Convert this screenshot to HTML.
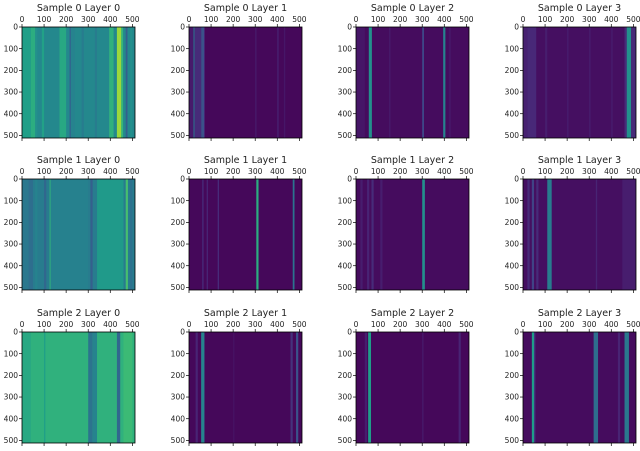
<!DOCTYPE html>
<html><head><meta charset="utf-8"><style>
body{margin:0;background:#fff;}
svg{display:block;font-family:"DejaVu Sans","Liberation Sans",sans-serif;}
</style></head><body>
<svg id="fig" width="640" height="451" viewBox="0 0 640 451"></svg>
<script>
// Heatmap data: per panel base value and vertical stripes [xStart, xEnd, value] in data units (0..512), value 0..1
const titles = ["Sample 0 Layer 0","Sample 0 Layer 1","Sample 0 Layer 2","Sample 0 Layer 3",
"Sample 1 Layer 0","Sample 1 Layer 1","Sample 1 Layer 2","Sample 1 Layer 3",
"Sample 2 Layer 0","Sample 2 Layer 1","Sample 2 Layer 2","Sample 2 Layer 3"];
const baseValues = [0.47,0.02,0.03,0.04, 0.42,0.02,0.03,0.04, 0.64,0.02,0.02,0.03];
const stripes0 = [[0,40,0.56],[40,60,0.62],[60,70,0.5],[90,100,0.57],[170,200,0.6],[215,222,0.33],[222,240,0.45],[270,280,0.42],[330,340,0.42],[395,415,0.64],[430,450,0.85],[450,458,0.66],[470,478,0.3],[490,500,0.5]];
const stripes1 = [[0,20,0.07],[20,26,0.35],[26,55,0.12],[55,68,0.25],[68,72,0.12],[300,306,0.07],[400,406,0.09],[430,436,0.06]];
const stripes2 = [[0,40,0.06],[58,72,0.5],[150,156,0.07],[300,308,0.22],[395,405,0.45],[420,430,0.06]];
const stripes3 = [[0,20,0.09],[20,60,0.11],[100,110,0.08],[200,206,0.08],[300,306,0.08],[400,406,0.08],[460,470,0.12],[470,490,0.5],[490,512,0.12]];
const stripes4 = [[0,30,0.4],[30,50,0.36],[60,70,0.45],[100,110,0.33],[125,130,0.65],[130,300,0.44],[310,320,0.3],[340,460,0.54],[470,480,0.7],[490,500,0.37]];
const stripes5 = [[60,66,0.12],[80,86,0.1],[130,136,0.12],[305,315,0.62],[470,478,0.38]];
const stripes6 = [[20,30,0.08],[50,60,0.1],[70,80,0.12],[110,120,0.08],[300,312,0.5]];
const stripes7 = [[20,30,0.12],[40,50,0.2],[60,70,0.12],[110,130,0.42],[330,336,0.1],[450,512,0.08]];
const stripes8 = [[0,40,0.6],[100,106,0.56],[300,320,0.38],[320,340,0.45],[430,445,0.33],[460,500,0.68]];
const stripes9 = [[30,40,0.1],[55,70,0.45],[200,206,0.05],[460,470,0.14],[485,495,0.25]];
const stripes10 = [[40,50,0.08],[55,68,0.55],[300,306,0.07],[465,475,0.1]];
const stripes11 = [[40,50,0.55],[50,56,0.16],[320,340,0.36],[430,440,0.1],[460,480,0.4]];
const allStripes = [stripes0,stripes1,stripes2,stripes3,stripes4,stripes5,stripes6,stripes7,stripes8,stripes9,stripes10,stripes11];
const tickLabels = [0,100,200,300,400,500];

const vir = [[68,1,84],[72,40,120],[62,74,137],[49,104,142],[38,130,142],[31,158,137],[53,183,121],[109,205,89],[180,222,44],[253,231,37]];
function viridis(v){v=Math.max(0,Math.min(1,v))*9;const i=Math.min(8,Math.floor(v)),f=v-i;
 const a=vir[i],b=vir[i+1];return `rgb(${a.map((c,k)=>Math.round(c+(b[k]-c)*f)).join(',')})`;}
const NS="http://www.w3.org/2000/svg";
const svg=document.getElementById('fig');
function el(t,attrs,parent){const e=document.createElementNS(NS,t);for(const k in attrs)e.setAttribute(k,attrs[k]);(parent||svg).appendChild(e);return e;}
const colX=[22,189,356,523], rowY=[27,179,332], W=113, H=111, N=512;
titles.forEach((t,p)=>{
 const x0=colX[p%4], y0=rowY[Math.floor(p/4)];
 const sx=v=>x0+v/N*W, sy=v=>y0+v/N*H;
 const g=el('g',{});
 
 
 const bg=el('rect',{x:x0,y:y0,width:W,height:H,fill:viridis(baseValues[p])},g);
 
 
 allStripes[p].forEach(s=>{
  const r=el('rect',{x:sx(s[0]),y:sy(0),width:sx(s[1])-sx(s[0]),height:sy(N)-sy(0),fill:viridis(s[2])},g);
  
  
 });
 const fr=el('rect',{x:x0,y:y0,width:W,height:H,fill:'none',stroke:'#000','stroke-width':0.8},g);
 
 
 const tt=el('text',{x:x0+W/2,y:y0-16,'text-anchor':'middle','font-size':9.5,fill:'#222'},g);
 tt.textContent=t;
 
 
 tickLabels.forEach(v=>{
  el('line',{x1:sx(v),x2:sx(v),y1:y0,y2:y0-3,stroke:'#000','stroke-width':0.7},g);
  el('line',{x1:sx(v),x2:sx(v),y1:y0+H,y2:y0+H+3,stroke:'#000','stroke-width':0.7},g);
  const xl=el('text',{x:sx(v),y:y0-5,'text-anchor':'middle','font-size':7.5,fill:'#222'},g);
  xl.textContent=v;
  
  
  el('line',{x1:x0,x2:x0-3,y1:sy(v),y2:sy(v),stroke:'#000','stroke-width':0.7},g);
  const yl=el('text',{x:x0-4,y:sy(v)+2.7,'text-anchor':'end','font-size':7.5,fill:'#222'},g);
  yl.textContent=v;
  
  
 });
});
</script>
</body></html>
